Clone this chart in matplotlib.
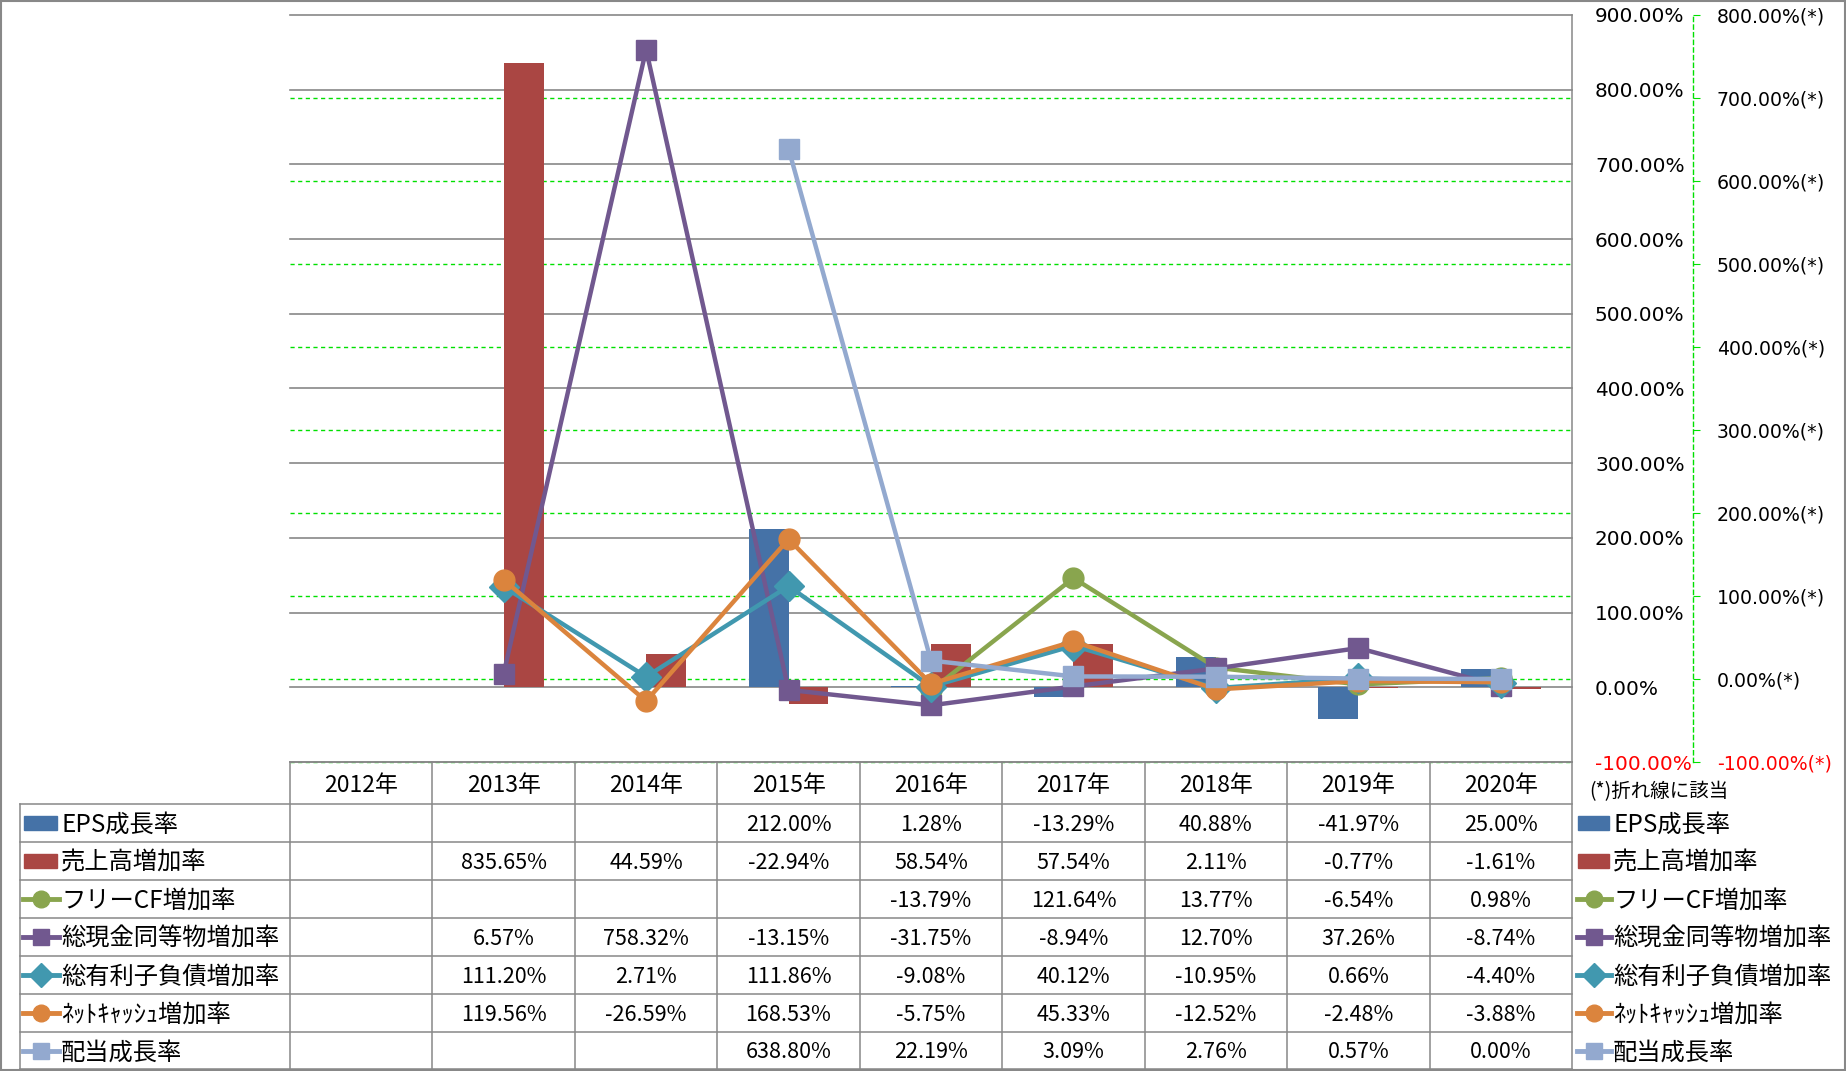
import numpy as np
import matplotlib
matplotlib.use('Agg')
import matplotlib.pyplot as plt
from matplotlib.lines import Line2D
from matplotlib.patches import Rectangle
import matplotlib.transforms as mtransforms

plt.rcParams['font.family'] = ['Noto Sans CJK JP', 'DejaVu Sans']

nan = np.nan
years = ['2012年', '2013年', '2014年', '2015年', '2016年', '2017年', '2018年', '2019年', '2020年']
eps_growth = [nan, nan, nan, 212.00, 1.28, -13.29, 40.88, -41.97, 25.00]
sales_growth = [nan, 835.65, 44.59, -22.94, 58.54, 57.54, 2.11, -0.77, -1.61]
fcf_growth = [nan, nan, nan, nan, -13.79, 121.64, 13.77, -6.54, 0.98]
cash_growth = [nan, 6.57, 758.32, -13.15, -31.75, -8.94, 12.70, 37.26, -8.74]
debt_growth = [nan, 111.20, 2.71, 111.86, -9.08, 40.12, -10.95, 0.66, -4.40]
netcash_growth = [nan, 119.56, -26.59, 168.53, -5.75, 45.33, -12.52, -2.48, -3.88]
div_growth = [nan, nan, nan, 638.80, 22.19, 3.09, 2.76, 0.57, 0.00]

bar_names = ['EPS成長率', '売上高増加率']
line_names = ['フリーCF増加率', '総現金同等物増加率', '総有利子負債増加率', 'ﾈｯﾄｷｬｯｼｭ増加率', '配当成長率']
primary_ticks = list(range(-100, 1000, 100))
secondary_ticks = list(range(-100, 900, 100))

bar_colors = ['#4572A7', '#AA4643']
line_colors = ['#89A54E', '#71588F', '#4198AF', '#DB843D', '#93A9CF']
line_markers = ['o', 's', 'D', 'o', 's']
line_msizes = [15, 14, 15, 15, 14]

W, H = 1846, 1071
fig = plt.figure(figsize=(W / 100, H / 100), dpi=100)
fig.patch.set_facecolor('white')

def fx(px):
    return px / W

def fy(py):
    return 1 - py / H

PL, PR, PT, PB = 290, 1572, 15, 762
rect = [fx(PL), fy(PB), fx(PR) - fx(PL), (PB - PT) / H]
GRAY = '#888888'
GREEN = '#00E000'
PT_PER_PX = 72 / 100

x = np.arange(len(years))

# secondary-axis grid and axis (bottom layer)
ax_g = fig.add_axes(rect, zorder=0)
ax_g.set_xlim(-0.5, len(years) - 0.5)
ax_g.set_ylim(-100, 800)
ax_g.set_yticks(secondary_ticks)
ax_g.set_xticks([])
ax_g.yaxis.tick_right()
for v in secondary_ticks[:-1]:
    ax_g.axhline(v, color=GREEN, linestyle=(0, (3, 2.5)), linewidth=1.0, clip_on=False)
for s in ['left', 'top', 'bottom']:
    ax_g.spines[s].set_visible(False)
ax_g.spines['right'].set_position(('outward', 121 * PT_PER_PX))
ax_g.spines['right'].set_color(GREEN)
ax_g.spines['right'].set_linestyle((0, (3, 2.5)))
ax_g.spines['right'].set_linewidth(1.0)
ax_g.tick_params(axis='y', direction='out', length=7 * PT_PER_PX, color=GREEN,
                 pad=17 * PT_PER_PX, labelsize=13.6)
ax_g.set_yticklabels([f'{v:.2f}%(*)' for v in secondary_ticks], family='DejaVu Sans')
for lab, v in zip(ax_g.get_yticklabels(), secondary_ticks):
    lab.set_color('red' if v < 0 else 'black')

# primary axis with bars
ax_b = fig.add_axes(rect, zorder=1)
ax_b.patch.set_visible(False)
ax_b.set_xlim(-0.5, len(years) - 0.5)
ax_b.set_ylim(-100, 900)
ax_b.set_yticks(primary_ticks)
ax_b.set_xticks([])
ax_b.yaxis.tick_right()
for v in primary_ticks:
    ax_b.axhline(v, color=GRAY, linewidth=1.2, clip_on=False, zorder=1)
for s in ['left', 'top', 'bottom']:
    ax_b.spines[s].set_visible(False)
ax_b.spines['right'].set_color(GRAY)
ax_b.spines['right'].set_linewidth(1.1)
ax_b.tick_params(axis='y', length=0, pad=23 * PT_PER_PX, labelsize=14.4)
ax_b.set_yticklabels([f'{v:.2f}%' for v in primary_ticks], family='DejaVu Sans')
for lab, v in zip(ax_b.get_yticklabels(), primary_ticks):
    lab.set_color('red' if v < 0 else 'black')

bw = 0.28
bar_data = [eps_growth, sales_growth]
for k, (vals, c) in enumerate(zip(bar_data, bar_colors)):
    ax_b.bar(x + (k - 0.5) * bw, vals, width=bw, color=c, zorder=2)

# lines on secondary scale (top layer)
ax_l = fig.add_axes(rect, zorder=2)
ax_l.patch.set_visible(False)
ax_l.set_xlim(-0.5, len(years) - 0.5)
ax_l.set_ylim(-100, 800)
ax_l.axis('off')
line_data = [fcf_growth, cash_growth, debt_growth, netcash_growth, div_growth]
for vals, c, m, ms in zip(line_data, line_colors, line_markers, line_msizes):
    ax_l.plot(x, vals, color=c, lw=3.2, marker=m, markersize=ms,
              markeredgecolor=c, markerfacecolor=c, clip_on=False)

# ---- data table ----
tblend = mtransforms.blended_transform_factory(ax_b.transData, fig.transFigure)
row_edges = [804, 842, 880, 918, 956, 994, 1032, 1069]
row_centers = [(a + b) / 2 for a, b in zip(row_edges[:-1], row_edges[1:])]
TL = 20

def hline(x0, x1, y, **kw):
    fig.add_artist(Line2D([fx(x0), fx(x1)], [fy(y), fy(y)], transform=fig.transFigure,
                          color=GRAY, lw=1.1, **kw))

def vline(xp, y0, y1):
    fig.add_artist(Line2D([fx(xp), fx(xp)], [fy(y0), fy(y1)], transform=fig.transFigure,
                          color=GRAY, lw=1.1))

hline(PL, PR, PB)
for ye in row_edges:
    hline(TL, PR, ye)
vline(TL, row_edges[0], row_edges[-1])
col_edges = np.linspace(PL, PR, len(years) + 1)
for xe in col_edges:
    vline(xe, PB, row_edges[-1])

for i, yr in enumerate(years):
    fig.text(i, fy((PB + row_edges[0]) / 2 + 2), yr, transform=tblend, ha='center', va='center',
             fontsize=16.5)

all_data = bar_data + line_data
for r, vals in enumerate(all_data):
    for i, v in enumerate(vals):
        if not np.isnan(v):
            fig.text(i, fy(row_centers[r] + 2), f'{v:.2f}%', transform=tblend, ha='center',
                     va='center', fontsize=15.5)

# legend keys (left in table and right side)
all_names = bar_names + line_names
def draw_key(r, x0, x1, xt):
    yc = row_centers[r]
    if r < 2:
        fig.add_artist(Rectangle((fx(x0 + 1), fy(yc + 7)), fx(x1 - 2) - fx(x0 + 1), 14 / H,
                                 transform=fig.transFigure, color=bar_colors[r]))
    else:
        k = r - 2
        c = line_colors[k]
        fig.add_artist(Line2D([fx(x0), fx(x1)], [fy(yc), fy(yc)], transform=fig.transFigure,
                              color=c, lw=3.5))
        fig.add_artist(Line2D([fx((x0 + x1) / 2)], [fy(yc)], transform=fig.transFigure,
                              marker=line_markers[k], markersize=line_msizes[k] * 0.8,
                              color=c, markeredgecolor=c))
    fig.text(fx(xt), fy(yc + 2), all_names[r], ha='left', va='center', fontsize=17.5)

for r in range(len(all_names)):
    draw_key(r, 23, 59, 61)
    draw_key(r, 1577, 1611, 1613)

fig.text(fx(1589), fy(792), '(*)折れ線に該当', ha='left', va='center', fontsize=14)

# outer frame
fig.add_artist(Rectangle((fx(1), fy(H - 1)), fx(W - 2), (H - 2) / H, transform=fig.transFigure,
                         fill=False, edgecolor=GRAY, lw=1.5))

fig.savefig('out.png', dpi=100, facecolor='white')
